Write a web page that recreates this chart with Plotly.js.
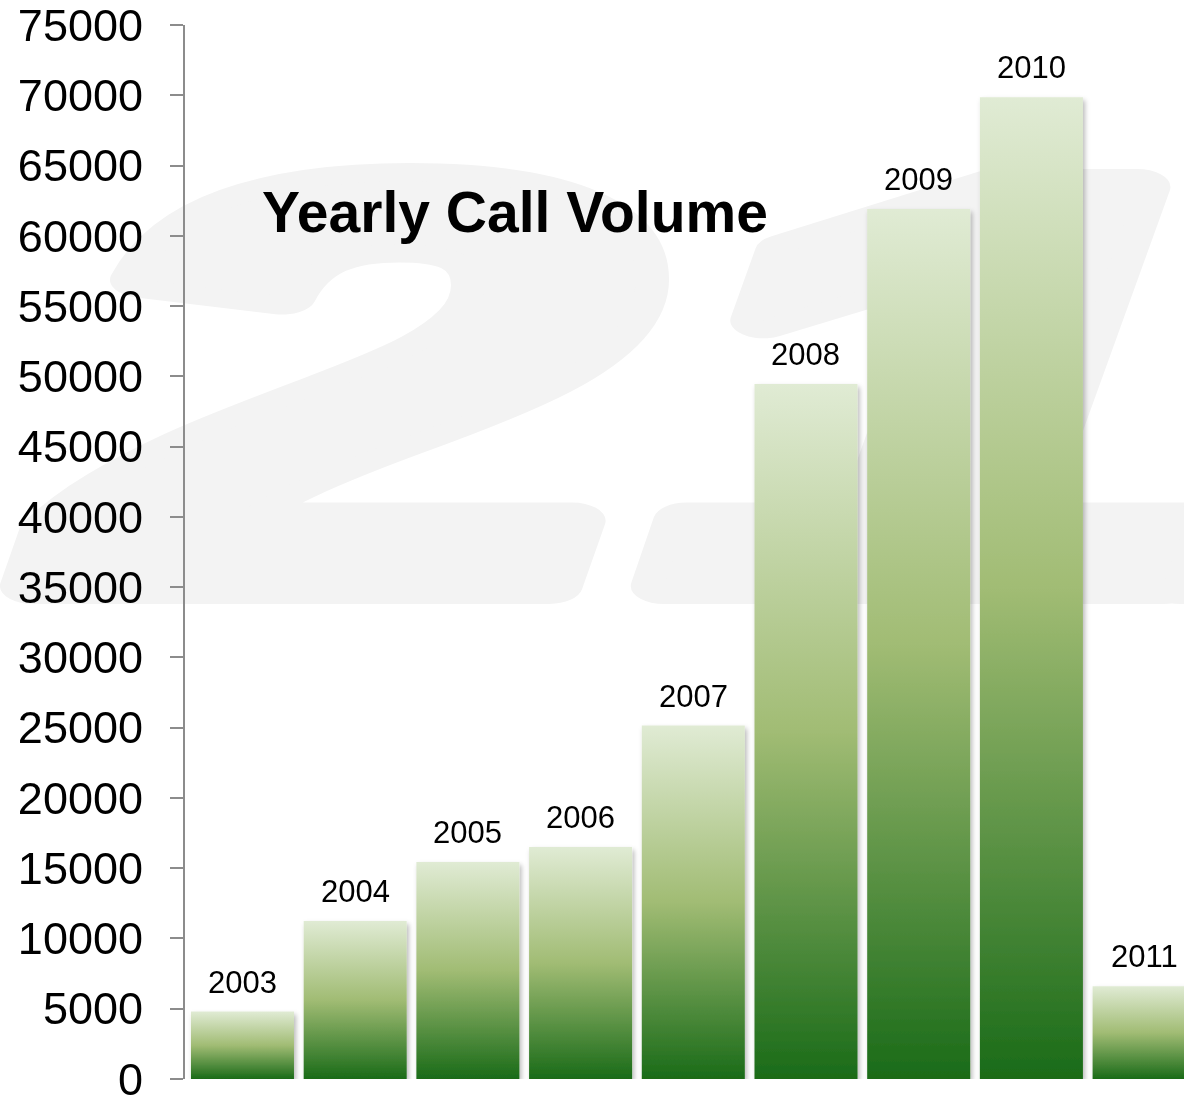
<!DOCTYPE html>
<html>
<head>
<meta charset="utf-8">
<script src="https://cdn.plot.ly/plotly-3.0.1.min.js"></script>
<style>
  html, body { margin: 0; padding: 0; background: #ffffff; }
  #wrap { position: relative; width: 1184px; height: 1095px; overflow: hidden; }
  #mark { position: absolute; left: 0; top: 0; width: 1184px; height: 1095px; z-index: 0; }
  #chart { position: absolute; left: 0; top: 0; width: 1184px; height: 1095px; z-index: 1; }
</style>
</head>
<body>
<div id="wrap">
  <canvas id="mark" width="1184" height="1095"></canvas>
  <div id="chart"></div>
</div>
<script>
// ---- data ----
const years = ['2003', '2004', '2005', '2006', '2007', '2008', '2009', '2010', '2011'];
const calls = [4800, 11250, 15450, 16500, 25150, 49450, 61900, 69850, 6600];
const yTicks = [0, 5000, 10000, 15000, 20000, 25000, 30000, 35000, 40000, 45000, 50000, 55000, 60000, 65000, 70000, 75000];
const chartTitle = 'Yearly Call Volume';
const logoMark = '211';

// ---- faint background logo (decoration, drawn on a canvas behind the chart) ----
(function () {
  const c = document.getElementById('mark');
  const ctx = c.getContext('2d');
  ctx.save();
  ctx.translate(50, 0);
  ctx.scale(1.85, 1);
  ctx.font = 'italic bold 580px "Liberation Sans", Arial, sans-serif';
  ctx.textBaseline = 'alphabetic';
  ctx.fillStyle = '#f3f3f3';
  ctx.strokeStyle = '#f3f3f3';
  ctx.lineWidth = 36;
  ctx.lineJoin = 'round';
  ctx.strokeText(logoMark, 0, 586);
  ctx.fillText(logoMark, 0, 586);
  ctx.restore();
})();

// ---- chart ----
const FONT = '"Liberation Sans", Arial, sans-serif';

const trace = {
  type: 'bar',
  x: years,
  y: calls,
  marker: { color: '#8fb35f', line: { width: 0 } },
  cliponaxis: false,
  hoverinfo: 'skip'
};

const annotations = years.map((yr, i) => ({
  x: i, y: calls[i], xref: 'x', yref: 'y',
  text: yr, showarrow: false,
  yanchor: 'bottom', xanchor: 'center', yshift: 10,
  font: { family: FONT, size: 31, color: '#000000' }
}));

const layout = {
  width: 1184, height: 1095,
  margin: { l: 185, r: 0, t: 25, b: 16, pad: 0 },
  paper_bgcolor: 'rgba(0,0,0,0)',
  plot_bgcolor: 'rgba(0,0,0,0)',
  showlegend: false,
  bargap: 0.086,
  font: { family: FONT, color: '#000000' },
  title: {
    text: '<b>' + chartTitle + '</b>',
    font: { family: FONT, size: 57, color: '#000000' },
    xref: 'container', yref: 'container',
    x: 262 / 1184, xanchor: 'left',
    y: 1 - 212 / 1095, yanchor: 'middle'
  },
  xaxis: {
    type: 'category',
    range: [-0.51, 8.354],
    showticklabels: false, ticks: '',
    showline: false, showgrid: false, zeroline: false
  },
  yaxis: {
    range: [0, 75000],
    tickmode: 'array', tickvals: yTicks, ticktext: yTicks.map(String),
    ticks: 'outside', ticklen: 13, tickwidth: 2, tickcolor: '#8c8c8c',
    showline: true, linecolor: '#8c8c8c', linewidth: 2,
    showgrid: false, zeroline: false,
    ticklabelstandoff: 18,
    ticklabeloverflow: 'allow',
    tickfont: { family: FONT, size: 45, color: '#000000' }
  },
  annotations: annotations
};

Plotly.newPlot('chart', [trace], layout, { displayModeBar: false, staticPlot: true }).then(function (gd) {
  const svg = gd.querySelector('svg.main-svg');
  const NS = 'http://www.w3.org/2000/svg';
  const defs = document.createElementNS(NS, 'defs');
  const grad = document.createElementNS(NS, 'linearGradient');
  grad.setAttribute('id', 'barGrad');
  grad.setAttribute('x1', '0'); grad.setAttribute('y1', '0');
  grad.setAttribute('x2', '0'); grad.setAttribute('y2', '1');
  [['0', '#e0ebd4'], ['0.5', '#a1bc74'], ['1', '#1a6b18']].forEach(function (s) {
    const st = document.createElementNS(NS, 'stop');
    st.setAttribute('offset', s[0]);
    st.setAttribute('stop-color', s[1]);
    grad.appendChild(st);
  });
  defs.appendChild(grad);
  const filt = document.createElementNS(NS, 'filter');
  filt.setAttribute('id', 'barShadow');
  filt.setAttribute('x', '-10%'); filt.setAttribute('y', '-5%');
  filt.setAttribute('width', '130%'); filt.setAttribute('height', '120%');
  const ds = document.createElementNS(NS, 'feDropShadow');
  ds.setAttribute('dx', '2'); ds.setAttribute('dy', '3');
  ds.setAttribute('stdDeviation', '2.5');
  ds.setAttribute('flood-color', '#000000');
  ds.setAttribute('flood-opacity', '0.28');
  filt.appendChild(ds);
  defs.appendChild(filt);
  svg.insertBefore(defs, svg.firstChild);
  gd.querySelectorAll('g.trace.bars g.point path').forEach(function (p) {
    p.style.fill = 'url(#barGrad)';
    p.setAttribute('filter', 'url(#barShadow)');
  });
});
</script>
</body>
</html>
